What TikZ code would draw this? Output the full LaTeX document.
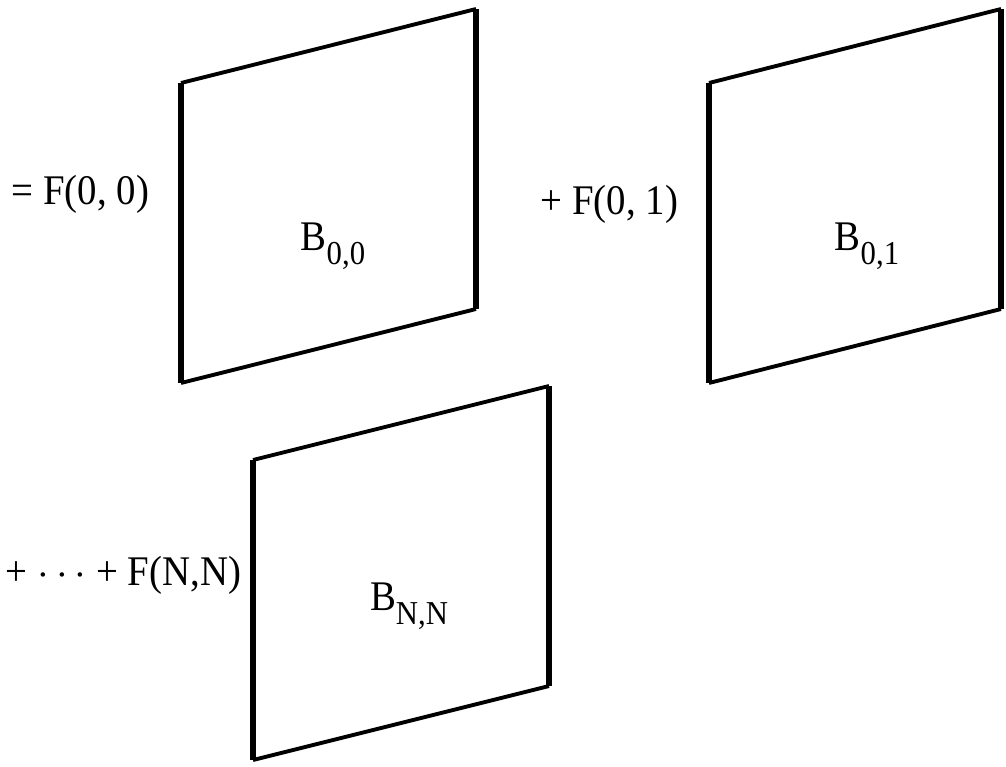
\documentclass[tikz,border=0pt]{standalone}
\usepackage{fontspec}
\setmainfont[FakeStretch=0.92]{Liberation Serif}
\usetikzlibrary{positioning}
\newcommand{\basis}[1]{B\raisebox{-0.7ex}{\fontsize{9.5}{11}\selectfont#1}}

\begin{document}
\begin{tikzpicture}[
  x=0.01cm, y=-0.01cm,
  side/.style={line width=1.8pt},
  slant/.style={line width=1.1pt},
  coef/.style={font=\fontsize{12}{14}\selectfont, inner sep=0pt, anchor=base west},
  basisname/.style={font=\fontsize{12}{14}\selectfont, inner sep=0pt}
]
\useasboundingbox (0,0) rectangle (1006,767);

% panels: left edge x / top-left y / right edge x / name
\foreach \lx/\ly/\rx/\nm in {181/83/476/p00, 709/83/1001/p01, 253/460/549/pnn}{
  \coordinate (\nm-nw) at (\lx,\ly);
  \coordinate (\nm-sw) at (\lx,\ly+300);
  \coordinate (\nm-ne) at (\rx,\ly-74);
  \coordinate (\nm-se) at (\rx,\ly+226);
  \draw[side] (\nm-nw) -- (\nm-sw);
  \draw[side] (\nm-ne) -- (\nm-se);
  \draw[slant] (\nm-nw) -- (\nm-ne);
  \draw[slant] (\nm-sw) -- (\nm-se);
}

\node[coef] (c00) at (11,205) {= F(0, 0)};
\node[coef] (c01) at (540,215) {+ F(0, 1)};
\node[coef] (cnn) at (5,585) {+ $\cdots$ + F(N,N)};

\node[basisname] (b00) at (333,246) {\basis{0,0}};
\node[basisname] (b01) at (867,246) {\basis{0,1}};
\node[basisname] (bnn) at (409,606) {\basis{N,N}};
\end{tikzpicture}
\end{document}
